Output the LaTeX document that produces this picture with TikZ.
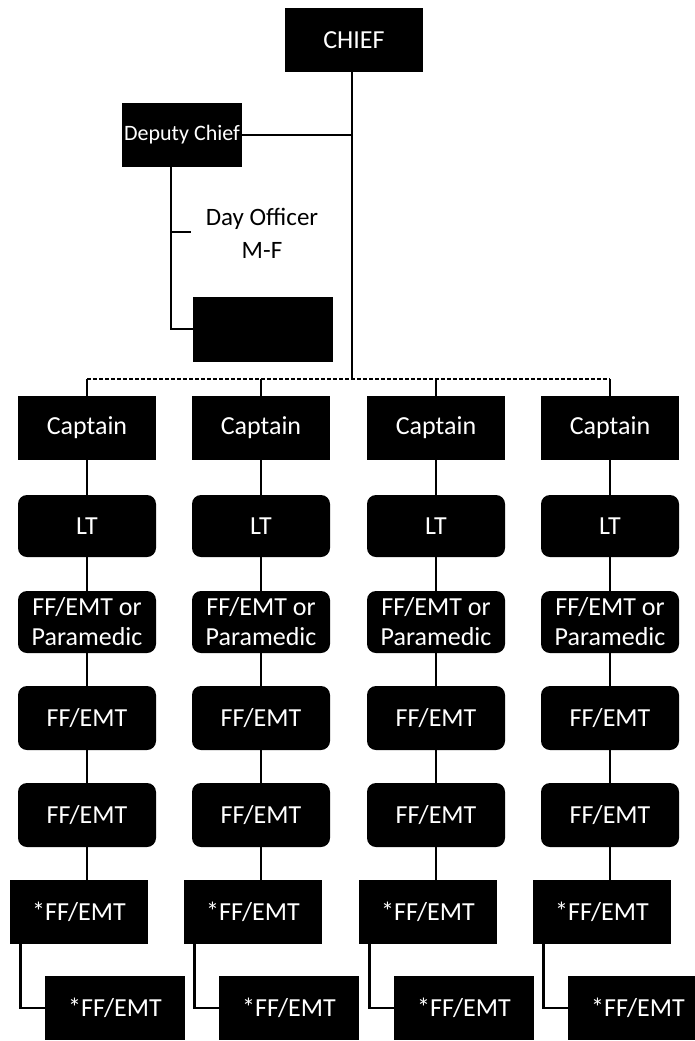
\documentclass[tikz,border=0pt]{standalone}
\usepackage{fontspec}
\setmainfont{Carlito}
\usepackage{tikz}

\tikzset{
  box/.style={fill=black, text=white, inner sep=0pt, align=center,
    minimum width=138pt, minimum height=64pt,
    font=\fontsize{26}{30}\selectfont},
  rbox/.style={box, rounded corners=9pt, minimum height=62pt},
  link/.style={line width=2.8pt},
  busline/.style={line width=2.6pt, dash pattern=on 4pt off 2pt},
}

\begin{document}
\begin{tikzpicture}[x=1pt, y=-1pt]
\useasboundingbox (0, 0) rectangle (695, 1041);

% Draw top of the chart.
\node[box] (chief) at (354, 40) {CHIEF};
\node[box, minimum width=120pt, font=\fontsize{22}{26}\selectfont] (deputy) at (182, 135) {Deputy Chief};
\node[box, minimum width=140pt, minimum height=65pt] (blank) at (263, 329) {};
\node[align=center, font=\fontsize{25}{33}\selectfont] (dayoff) at (262, 233) {Day Officer\\M-F};
\coordinate (bus) at (352, 379);
\coordinate (daystub) at (191, 232);
\coordinate (dtop) at ([xshift=-11pt]deputy.south);

\draw[link] ([xshift=-2pt]chief.south) -- (bus);
\draw[link] (deputy.east) -- (deputy.east -| bus);
\draw[link] (dtop) |- (blank.west);
\draw[link] (dtop |- daystub) -- (daystub);

% Draw the four crews.
\node[box] (cap1) at (87, 428) {Captain};
\node[box] (cap2) at (261, 428) {Captain};
\node[box] (cap3) at (436, 428) {Captain};
\node[box] (cap4) at (610, 428) {Captain};

\node[rbox] (lt1) at (87, 526) {LT};
\node[rbox] (lt2) at (261, 526) {LT};
\node[rbox] (lt3) at (436, 526) {LT};
\node[rbox] (lt4) at (610, 526) {LT};

\node[rbox] (pm1) at (87, 622) {FF/EMT or\\Paramedic};
\node[rbox] (pm2) at (261, 622) {FF/EMT or\\Paramedic};
\node[rbox] (pm3) at (436, 622) {FF/EMT or\\Paramedic};
\node[rbox] (pm4) at (610, 622) {FF/EMT or\\Paramedic};

\node[rbox, minimum height=64pt] (ffa1) at (87, 718) {FF/EMT};
\node[rbox, minimum height=64pt] (ffa2) at (261, 718) {FF/EMT};
\node[rbox, minimum height=64pt] (ffa3) at (436, 718) {FF/EMT};
\node[rbox, minimum height=64pt] (ffa4) at (610, 718) {FF/EMT};

\node[rbox, minimum height=64pt] (ffb1) at (87, 815) {FF/EMT};
\node[rbox, minimum height=64pt] (ffb2) at (261, 815) {FF/EMT};
\node[rbox, minimum height=64pt] (ffb3) at (436, 815) {FF/EMT};
\node[rbox, minimum height=64pt] (ffb4) at (610, 815) {FF/EMT};

\node[box] (ffc1) at (79, 912) {*FF/EMT};
\node[box] (ffc2) at (253, 912) {*FF/EMT};
\node[box] (ffc3) at (428, 912) {*FF/EMT};
\node[box] (ffc4) at (602, 912) {*FF/EMT};

\node[box, minimum width=140pt] (ffd1) at (115, 1008) {*FF/EMT};
\node[box, minimum width=140pt] (ffd2) at (289, 1008) {*FF/EMT};
\node[box, minimum width=140pt] (ffd3) at (464, 1008) {*FF/EMT};
\node[box, minimum width=140pt] (ffd4) at (638, 1008) {*FF/EMT};

% Draw the bus to the captains.
\draw[busline] (cap1.north |- bus) -- (cap4.north |- bus);
\draw[link] (cap1.north |- bus) -- (cap1.north);
\draw[link] (cap2.north |- bus) -- (cap2.north);
\draw[link] (cap3.north |- bus) -- (cap3.north);
\draw[link] (cap4.north |- bus) -- (cap4.north);

% Draw links down each crew.
\draw[link] (cap1) -- (lt1);
\draw[link] (cap2) -- (lt2);
\draw[link] (cap3) -- (lt3);
\draw[link] (cap4) -- (lt4);

\draw[link] (lt1) -- (pm1);
\draw[link] (lt2) -- (pm2);
\draw[link] (lt3) -- (pm3);
\draw[link] (lt4) -- (pm4);

\draw[link] (pm1) -- (ffa1);
\draw[link] (pm2) -- (ffa2);
\draw[link] (pm3) -- (ffa3);
\draw[link] (pm4) -- (ffa4);

\draw[link] (ffa1) -- (ffb1);
\draw[link] (ffa2) -- (ffb2);
\draw[link] (ffa3) -- (ffb3);
\draw[link] (ffa4) -- (ffb4);

\draw[link] (ffb1.south) -- (ffb1.south |- ffc1.north);
\draw[link] (ffb2.south) -- (ffb2.south |- ffc2.north);
\draw[link] (ffb3.south) -- (ffb3.south |- ffc3.north);
\draw[link] (ffb4.south) -- (ffb4.south |- ffc4.north);

\draw[link] ([xshift=11pt]ffc1.south west) |- (ffd1.west);
\draw[link] ([xshift=11pt]ffc2.south west) |- (ffd2.west);
\draw[link] ([xshift=11pt]ffc3.south west) |- (ffd3.west);
\draw[link] ([xshift=11pt]ffc4.south west) |- (ffd4.west);

\end{tikzpicture}
\end{document}
